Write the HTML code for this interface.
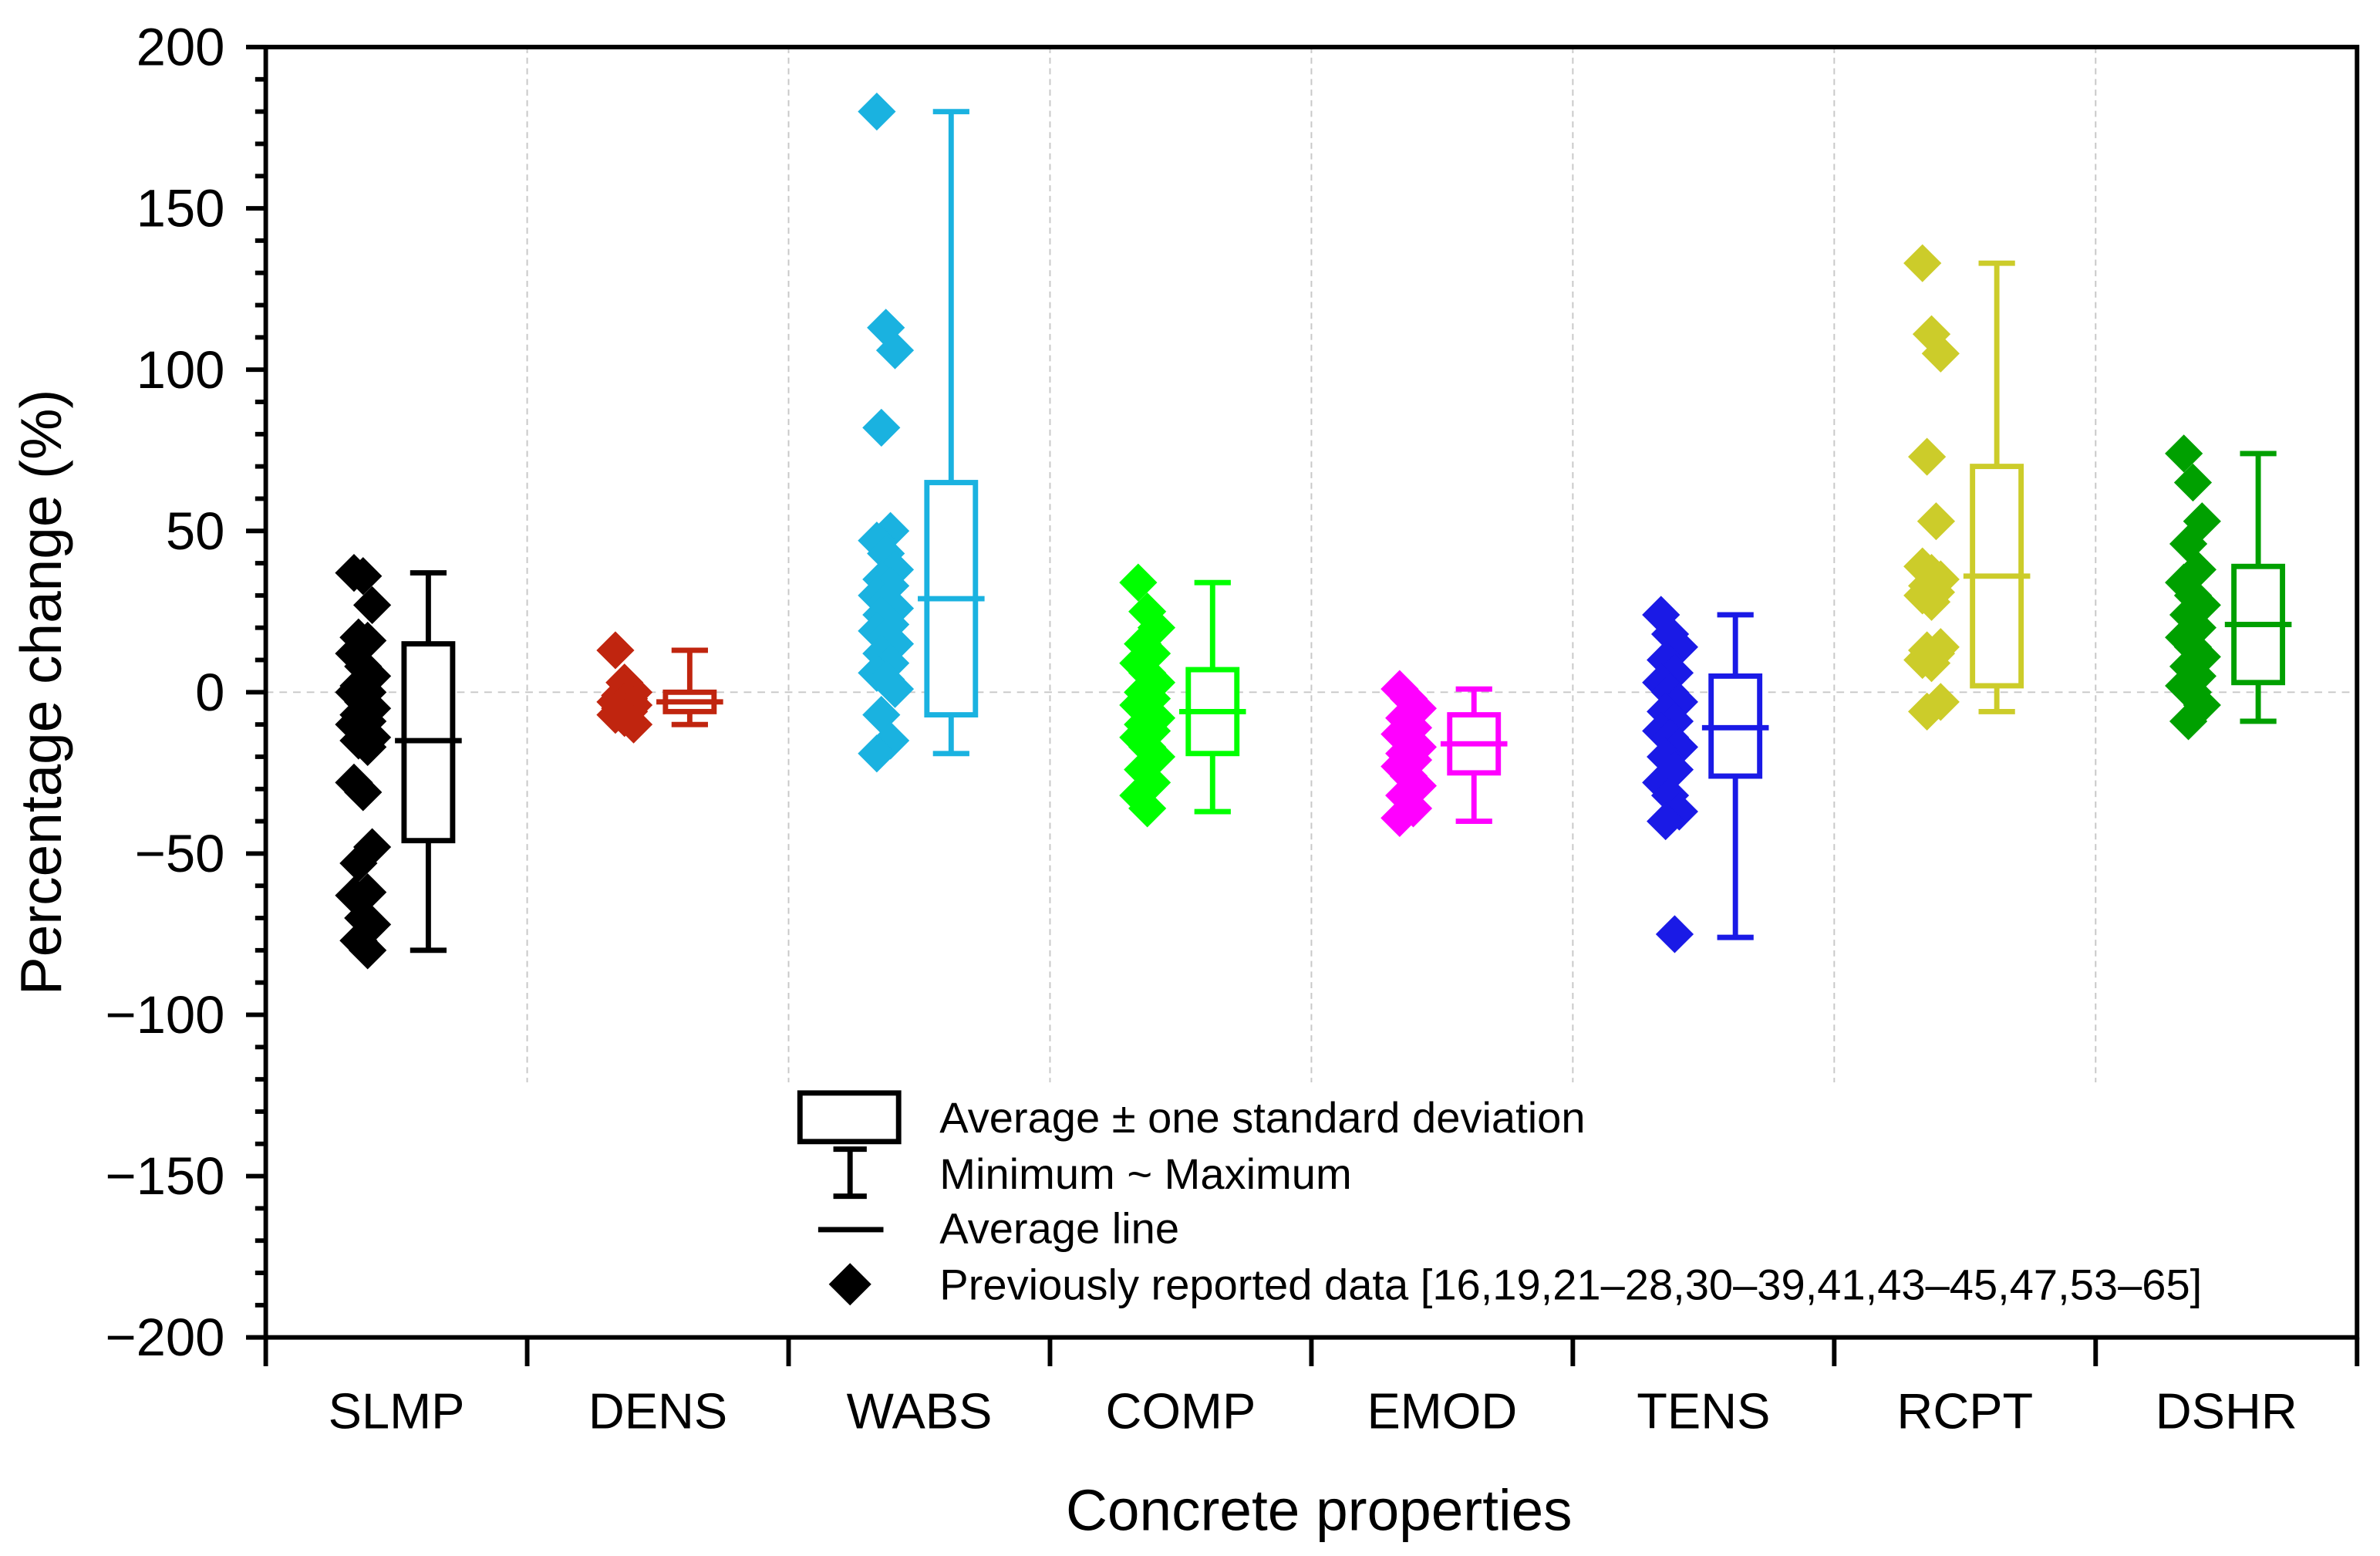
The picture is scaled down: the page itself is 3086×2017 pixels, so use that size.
<!DOCTYPE html>
<html><head><meta charset="utf-8"><style>html,body{margin:0;padding:0;background:#fff}svg{display:block}text{font-family:"Liberation Sans",Arial,sans-serif}</style></head>
<body>
<svg id="chart" width="3086" height="2017" viewBox="0 0 1568 1025" xmlns="http://www.w3.org/2000/svg">
<rect width="1568" height="1025" fill="#fff"/>
<g id="grid"></g><g id="marks"></g><g id="axes"></g>
<g>
<rect x="527" y="720" width="65" height="32" fill="none" stroke="#000" stroke-width="3.5"/>
<line x1="560" y1="757" x2="560" y2="788" stroke="#000" stroke-width="3.5"/>
<line x1="549" y1="757" x2="571" y2="757" stroke="#000" stroke-width="3.5"/>
<line x1="549" y1="788" x2="571" y2="788" stroke="#000" stroke-width="3.5"/>
<line x1="539" y1="810" x2="582" y2="810" stroke="#000" stroke-width="3.5"/>
<path d="M560 832 L574 846 L560 860 L546 846Z" fill="#000"/>
<text x="619" y="746" font-size="28.5">Average ± one standard deviation</text>
<text x="619" y="783" font-size="28.5">Minimum ~ Maximum</text>
<text x="619" y="819" font-size="28.5">Average line</text>
<text x="619" y="856" font-size="28.5">Previously reported data [16,19,21–28,30–39,41,43–45,47,53–65]</text>
</g>
<text x="869" y="1008" font-size="38" text-anchor="middle">Concrete properties</text>
<text transform="translate(40,456) rotate(-90)" font-size="38" text-anchor="middle">Percentage change (%)</text>
</svg>
<script>
const categories=["SLMP","DENS","WABS","COMP","EMOD","TENS","RCPT","DSHR"];
const colors=["#000000","#c0250f","#1ab2e0","#00ff00","#ff00ff","#1a1ae6","#cccc2a","#00a000"];
const maxVals=[37,13,180,34,1,24,133,74];
const sdTop=[15,0,65,7,-7,5,70,39];
const means=[-15,-3,29,-6,-16,-11,36,21];
const sdBottom=[-46,-6,-7,-19,-25,-26,2,3];
const minVals=[-80,-10,-19,-37,-40,-76,-6,-9];
const ptsSLMP=[37,36,27,17,16,12,8,5,2,0,0,-3,-5,-7,-9,-10,-12,-14,-15,-17,-28,-31,-48,-53,-62,-63,-70,-72,-77,-80];
const ptsDENS=[13,3,0,-1,-2,-3,-3,-4,-5,-6,-7,-8,-10];
const ptsWABS=[180,113,106,82,50,47,43,38,35,33,30,28,26,24,21,19,17,15,12,9,6,4,1,-7,-15,-19];
const ptsCOMP=[34,25,20,15,12,9,6,3,0,-2,-4,-6,-8,-10,-12,-14,-17,-20,-24,-28,-32,-36];
const ptsEMOD=[1,-2,-5,-8,-11,-13,-15,-17,-19,-21,-23,-26,-29,-32,-36,-39];
const ptsTENS=[24,18,14,10,6,3,0,-3,-6,-9,-12,-14,-17,-20,-24,-28,-32,-37,-40,-75];
const ptsRCPT=[133,111,105,73,53,39,37,35,33,31,30,28,14,13,12,10,9,-3,-6];
const ptsDSHR=[74,65,53,46,38,34,30,27,24,20,17,14,11,8,5,2,0,-4,-9];
const yTicks=[200,150,100,50,0,-50,-100,-150,-200];
const points=[ptsSLMP,ptsDENS,ptsWABS,ptsCOMP,ptsEMOD,ptsTENS,ptsRCPT,ptsDSHR];
const NS="http://www.w3.org/2000/svg";
const L=175,R=1553,T=31,B=881,ymin=-200,ymax=200;
const cw=(R-L)/categories.length;
const y=v=>B-(v-ymin)/(ymax-ymin)*(B-T);
const xc=i=>L+cw*(i+0.5);
function mk(p,tag,a){const e=document.createElementNS(NS,tag);for(const k in a)e.setAttribute(k,a[k]);p.appendChild(e);return e;}
const grid=document.getElementById('grid'),marks=document.getElementById('marks'),axes=document.getElementById('axes');
for(let i=1;i<categories.length;i++){const g=mk(grid,'line',{x1:L+cw*i,x2:L+cw*i,y1:T,y2:713,stroke:'#c8c8c8','stroke-width':1,'stroke-dasharray':'4,3'});

}
const z=mk(grid,'line',{x1:L,x2:R,y1:y(0),y2:y(0),stroke:'#c8c8c8','stroke-width':1,'stroke-dasharray':'5,4'});


categories.forEach((c,i)=>{
 const cx=xc(i),sx=cx-22,bx=cx+21,col=colors[i];
 const g=mk(marks,'g',{});
 
 
 points[i].forEach((v,j)=>{const off=(((j*7)%5)-2)*3;const yy=y(v);
  const d=mk(g,'path',{d:`M${sx+off} ${yy-12.5} L${sx+off+12.5} ${yy} L${sx+off} ${yy+12.5} L${sx+off-12.5} ${yy}Z`,fill:col});
  
  });
 const w=mk(g,'line',{x1:bx,x2:bx,y1:y(maxVals[i]),y2:y(minVals[i]),stroke:col,'stroke-width':3.5});
 
 
 [maxVals[i],minVals[i]].forEach(v=>{const c2=mk(g,'line',{x1:bx-12,x2:bx+12,y1:y(v),y2:y(v),stroke:col,'stroke-width':3.5});
  
  });
 const b=mk(g,'rect',{x:bx-16,y:y(sdTop[i]),width:32,height:y(sdBottom[i])-y(sdTop[i]),fill:'#fff',stroke:col,'stroke-width':3.5});
 
 
 const m=mk(g,'line',{x1:bx-22,x2:bx+22,y1:y(means[i]),y2:y(means[i]),stroke:col,'stroke-width':3.5});
 
 
 const t=mk(axes,'text',{x:cx,y:941,'font-size':33,'text-anchor':'middle'});t.textContent=c;
 
 
});
const frame=mk(axes,'rect',{x:L,y:T,width:R-L,height:B-T,fill:'none',stroke:'#000','stroke-width':3});


for(let i=0;i<=categories.length;i++){mk(axes,'line',{x1:L+cw*i,x2:L+cw*i,y1:B,y2:900,stroke:'#000','stroke-width':3});}
for(let v=ymin;v<=ymax;v+=10){const maj=v%50===0;mk(axes,'line',{x1:maj?162:168,x2:L,y1:y(v),y2:y(v),stroke:'#000','stroke-width':3});}
yTicks.forEach(v=>{const t=mk(axes,'text',{x:148,y:y(v)+12,'font-size':35,'text-anchor':'end'});t.textContent=v<0?'−'+(-v):String(v);
 
 });
</script>
</body></html>
